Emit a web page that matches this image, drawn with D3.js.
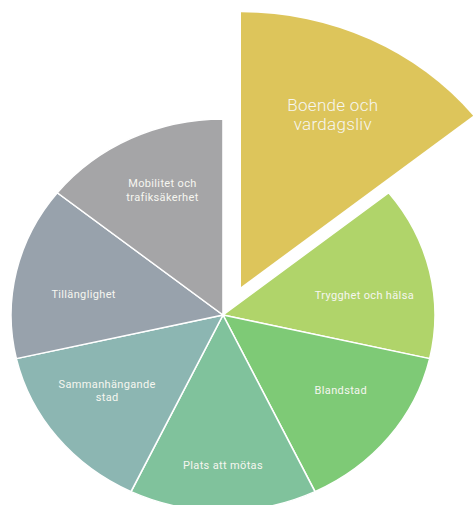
<!DOCTYPE html>
<html>
<head>
<meta charset="utf-8">
<script src="https://cdn.jsdelivr.net/npm/d3@7"></script>
<style>
  html, body { margin: 0; padding: 0; background: #ffffff; }
  svg { display: block; }
  text { font-family: Roboto, "Noto Sans", sans-serif; fill: #f6f6f0; }
</style>
</head>
<body>
<svg id="chart" width="474" height="505"></svg>
<script>
// ---- data ----
const categories = ["Boende och vardagsliv", "Trygghet och hälsa", "Blandstad", "Plats att mötas",
                    "Sammanhängande stad", "Tillänglighet", "Mobilitet och trafiksäkerhet"];
const values = [1, 1, 1, 1, 1, 1, 1];
const labelLines = [["Boende och", "vardagsliv"], ["Trygghet och hälsa"], ["Blandstad"], ["Plats att mötas"],
                    ["Sammanhängande", "stad"], ["Tillänglighet"], ["Mobilitet och", "trafiksäkerhet"]];
const highlighted = ["Boende och vardagsliv"];

// ---- layout / style ----
const colors = ["#DDC55B", "#B0D46A", "#7ECA76", "#80C29C", "#8CB6B2", "#98A2AC", "#A5A5A7"];
const labelNudge = [[2, 0], [2, 9], [6, -7], [0, 18], [-4, -7], [0, 8], [1.5, -6]];
const cx = 223, cy = 315;
const R = 212, yScale = 0.925;
const RBig = 297, explodeOffset = [18, -28];
const labelR = 143, labelRBig = 207;

const svg = d3.select("#chart");
const pie = d3.pie().sort(null).value(d => d).startAngle(0).endAngle(2 * Math.PI);
const arcs = pie(values).map((a, i) => Object.assign(a, { name: categories[i], idx: i }));

const arcNormal = d3.arc().innerRadius(0).outerRadius(R);
const arcBig = d3.arc().innerRadius(0).outerRadius(RBig);

const gNormal = svg.append("g").attr("transform", `translate(${cx},${cy}) scale(1,${yScale})`);
gNormal.selectAll("path")
  .data(arcs.filter(a => !highlighted.includes(a.name)))
  .join("path")
  .attr("d", arcNormal)
  .attr("fill", d => colors[d.idx])
  .attr("stroke", "#ffffff")
  .attr("stroke-width", 1.6)
  .attr("stroke-linejoin", "round");

const bx = cx + explodeOffset[0], by = cy + explodeOffset[1];
const gBig = svg.append("g").attr("transform", `translate(${bx},${by}) scale(1,${yScale})`);
gBig.selectAll("path")
  .data(arcs.filter(a => highlighted.includes(a.name)))
  .join("path")
  .attr("d", arcBig)
  .attr("fill", d => colors[d.idx]);

// ---- labels ----
const gLabels = svg.append("g");
arcs.forEach(a => {
  const big = highlighted.includes(a.name);
  const lr = big ? labelRBig : labelR;
  const c = d3.arc().innerRadius(lr).outerRadius(lr).centroid(a);
  const ox = big ? bx : cx, oy = big ? by : cy;
  const x = ox + c[0] + labelNudge[a.idx][0];
  const y = oy + c[1] * yScale + labelNudge[a.idx][1];
  const lines = labelLines[a.idx];
  const fs = big ? 17 : 11;
  const lh = big ? 18.5 : 13.4;
  const t = gLabels.append("text")
    .attr("text-anchor", "middle")
    .attr("font-size", fs)
    .attr("font-weight", big ? 300 : 400)
    .attr("letter-spacing", big ? 0.3 : 0.35)
    .attr("dominant-baseline", "central");
  lines.forEach((ln, j) => {
    t.append("tspan")
      .attr("x", x)
      .attr("y", y + (j - (lines.length - 1) / 2) * lh)
      .text(ln);
  });
});
</script>
</body>
</html>
